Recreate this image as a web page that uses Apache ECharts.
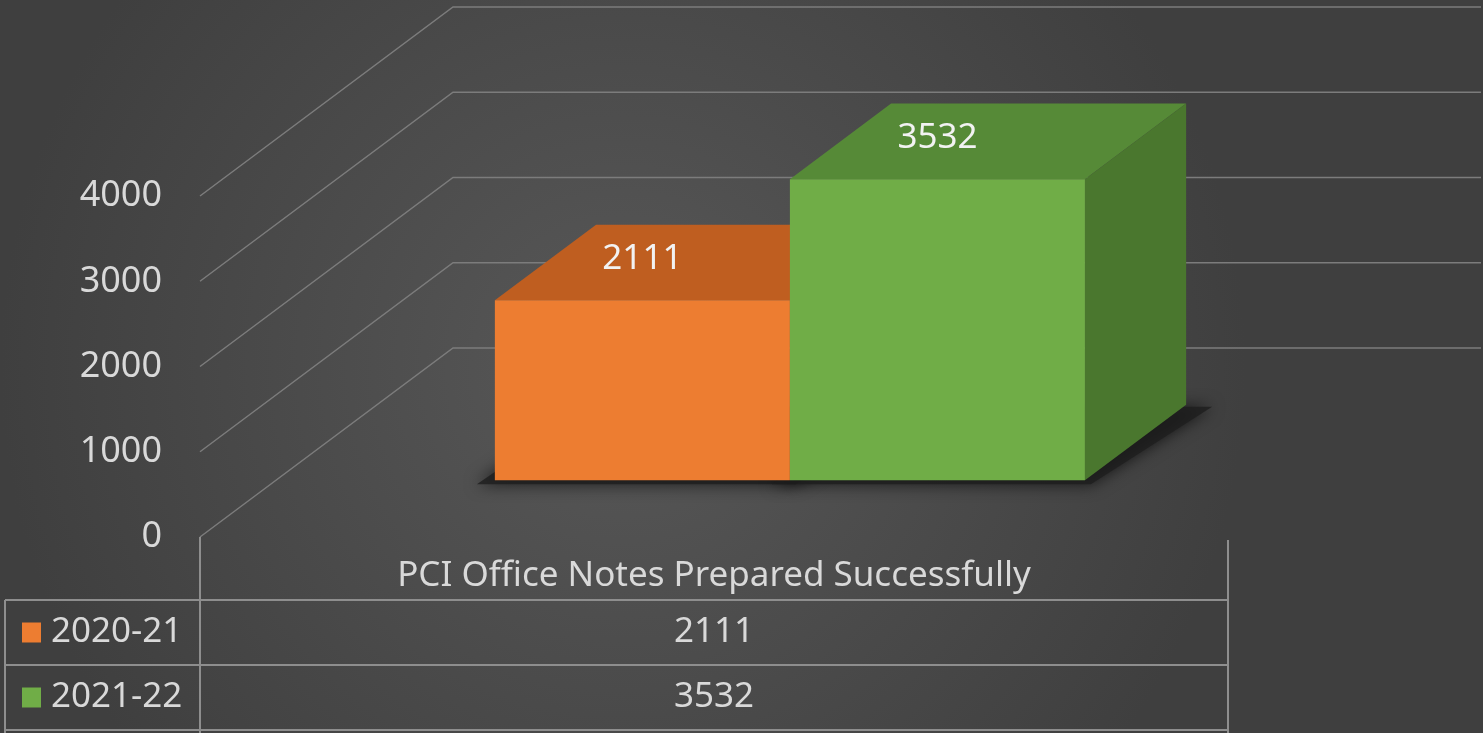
<!DOCTYPE html>
<html>
<head>
<meta charset="utf-8">
<script src="https://cdn.jsdelivr.net/npm/echarts@6/dist/echarts.min.js"></script>
<style>
  html, body { margin: 0; padding: 0; }
  #chart { width: 1483px; height: 733px; }
</style>
</head>
<body>
<div id="chart"></div>
<script>
// data
const categories = ['PCI Office Notes Prepared Successfully'];
const seriesNames = ['2020-21', '2021-22'];
const values2020 = [2111];
const values2021 = [3532];
const yTicks = [0, 1000, 2000, 3000, 4000];

const FONT = '"Noto Sans", sans-serif';
const TEXT = '#d9d9d9';
const GRID_LINE = '#7c7c7c';
const TABLE_LINE = '#8e8e8e';

// oblique depth of the plot box (front -> back wall)
const DEPTH_X = 253;
const DEPTH_Y = -189;
const BAR_FRONT = 0.3; // bar front face, fraction of depth
const BAR_DEPTH = 0.4;

// face colours: front, top, side
const faces = [
  { front: '#ED7D31', top: '#BF5E20', side: '#9E4C16' },
  { front: '#70AD47', top: '#568A37', side: '#4A772E' }
];

const chart = echarts.init(document.getElementById('chart'));

// diagonal + back wall gridlines
function renderGridLine(params, api) {
  const cs = params.coordSys;
  const y = api.coord([0, api.value(1)])[1];
  return {
    type: 'polyline',
    shape: {
      points: [
        [cs.x, y],
        [cs.x + DEPTH_X, y + DEPTH_Y],
        [cs.x + cs.width + DEPTH_X, y + DEPTH_Y]
      ]
    },
    style: { stroke: GRID_LINE, lineWidth: 1.5, fill: null },
    z2: 0
  };
}

function barRenderer(i) {
  return function (params, api) {
    const cat = api.value(0);
    const base = api.coord([cat, 0]);
    const top = api.coord([cat, api.value(1)]);
    const band = api.size([1, 0])[0];
    const bw = band * 0.287;
    const fx = DEPTH_X * BAR_FRONT, fy = DEPTH_Y * BAR_FRONT;
    const dx = DEPTH_X * BAR_DEPTH, dy = DEPTH_Y * BAR_DEPTH;
    const x0 = base[0] - bw + i * bw + fx;
    const x1 = x0 + bw;
    const yb = base[1] + fy;
    const yt = top[1] + fy;
    const c = faces[i];
    const zz = 10 + i * 10;
    return {
      type: 'group',
      children: [
        {
          type: 'polygon',
          shape: { points: [[x0 - 18, yb + 4], [x1 + 6, yb + 4], [x1 + dx + 26, yb + dy + 2], [x0 + dx - 6, yb + dy + 2]] },
          style: { fill: 'rgba(30,30,30,0.8)', shadowBlur: 16, shadowColor: 'rgba(0,0,0,0.85)' },
          z2: 1
        },
        {
          type: 'polygon',
          shape: { points: [[x0, yt], [x1, yt], [x1 + dx, yt + dy], [x0 + dx, yt + dy]] },
          style: { fill: c.top },
          z2: zz
        },
        {
          type: 'polygon',
          shape: { points: [[x1, yt], [x1 + dx, yt + dy], [x1 + dx, yb + dy], [x1, yb]] },
          style: { fill: c.side },
          z2: zz
        },
        {
          type: 'rect',
          shape: { x: x0, y: yt, width: bw, height: yb - yt },
          style: { fill: c.front },
          z2: zz + 1
        },
        {
          type: 'text',
          x: (x0 + x1) / 2,
          y: yt + dy * 0.55,
          style: {
            text: String(api.value(1)),
            fill: '#f2f2f2',
            font: '35px ' + FONT,
            align: 'center',
            verticalAlign: 'middle'
          },
          z2: zz + 2
        }
      ]
    };
  };
}

// data table under the plot
function renderTable(params, api) {
  const cs = params.coordSys;
  const left = cs.x, right = cs.x + cs.width;
  const floorY = cs.y + cs.height;
  const outerX = 5;
  const headerH = 63, rowH = 65;
  const bottom = 733;
  const midX = cs.x + cs.width / 2;
  const rows = [values2020, values2021];
  const line = (pts) => ({
    type: 'polyline',
    shape: { points: pts },
    style: { stroke: TABLE_LINE, lineWidth: 2, fill: null }
  });
  const children = [
    line([[left, floorY], [left, bottom]]),
    line([[right, floorY + 3], [right, bottom]]),
    line([[outerX, floorY + headerH], [outerX, bottom]])
  ];
  for (let r = 0; r <= rows.length; r++) {
    const y = floorY + headerH + r * rowH;
    children.push(line([[outerX, y], [right, y]]));
  }
  rows.forEach((vals, r) => {
    const cy = floorY + headerH + r * rowH + rowH / 2;
    children.push({
      type: 'rect',
      shape: { x: 22, y: cy - 10, width: 19, height: 20 },
      style: { fill: faces[r].front }
    });
    children.push({
      type: 'text', x: 51, y: cy,
      style: { text: seriesNames[r], fill: TEXT, font: '35px ' + FONT, verticalAlign: 'middle' }
    });
    children.push({
      type: 'text', x: midX, y: cy,
      style: { text: String(vals[0]), fill: TEXT, font: '35px ' + FONT, align: 'center', verticalAlign: 'middle' }
    });
  });
  return { type: 'group', children: children };
}

const option = {
  backgroundColor: {
    type: 'radial', x: 0.42, y: 0.5, r: 0.85,
    colorStops: [
      { offset: 0, color: '#585858' },
      { offset: 1, color: '#3f3f3f' }
    ]
  },
  animation: false,
  grid: { left: 200, right: 255, top: 196, bottom: 196 },
  xAxis: {
    type: 'category',
    data: categories,
    axisLine: { show: false },
    axisTick: { show: false },
    axisLabel: { color: TEXT, fontSize: 35, fontFamily: FONT, margin: 22 }
  },
  yAxis: {
    type: 'value',
    min: 0,
    max: 4000,
    interval: 1000,
    splitLine: { show: false },
    axisLine: { show: false },
    axisTick: { show: false },
    axisLabel: {
      color: TEXT, fontSize: 36, fontFamily: FONT, margin: 38,
      formatter: (v) => String(v)
    }
  },
  series: [
    {
      type: 'custom',
      name: 'grid',
      renderItem: renderGridLine,
      data: yTicks.map(v => [0, v]),
      encode: { x: 0, y: 1 },
      silent: true,
      z: 1
    },
    {
      type: 'custom',
      name: seriesNames[0],
      renderItem: barRenderer(0),
      data: values2020.map((v, k) => [k, v]),
      encode: { x: 0, y: 1 },
      z: 2
    },
    {
      type: 'custom',
      name: seriesNames[1],
      renderItem: barRenderer(1),
      data: values2021.map((v, k) => [k, v]),
      encode: { x: 0, y: 1 },
      z: 2
    },
    {
      type: 'custom',
      name: 'table',
      renderItem: renderTable,
      data: [[0, 0]],
      encode: { x: 0, y: 1 },
      silent: true,
      z: 3
    }
  ]
};

chart.setOption(option);
</script>
</body>
</html>
